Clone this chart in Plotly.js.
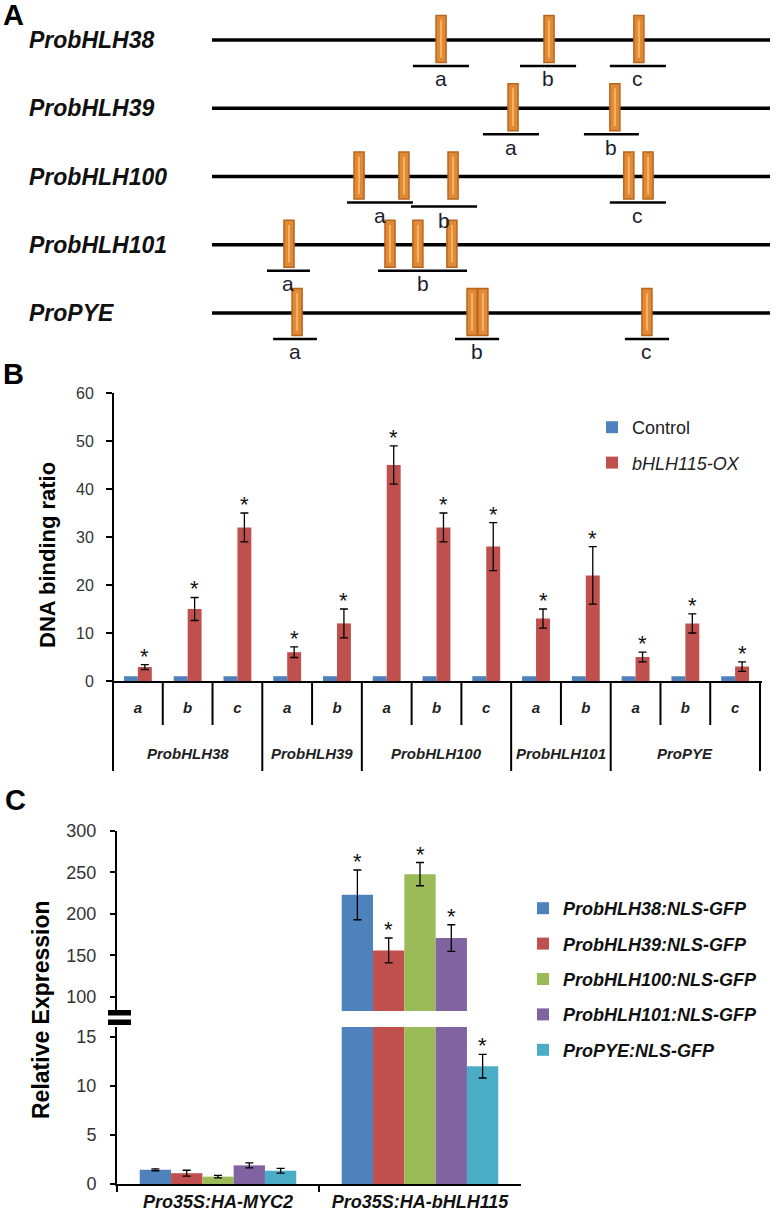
<!DOCTYPE html>
<html><head><meta charset="utf-8">
<script src="https://cdn.plot.ly/plotly-3.0.1.min.js"></script>
<style>body{margin:0;background:#fff}#chart{width:776px;height:1214px}</style>
</head><body><div id="chart"></div>
<script>
// ================= DATA =================
// Panel A: promoter maps (positions in bp upstream of start codon)
const promoters = ['ProbHLH38','ProbHLH39','ProbHLH100','ProbHLH101','ProPYE'];
const promoterLengthBp = 2000;
const sitesBp = [
  [-1179, -792, -470],
  [-921, -556],
  [-1473, -1312, -1136, -506, -437],
  [-1724, -1362, -1262, -1140],
  [-1695, -1068, -1029, -441]
];
const fragLabels = [['a','b','c'], ['a','b'], ['a','b','c'], ['a','b'], ['a','b','c']];
const fragStartBp = [[-1280,-896,-574], [-1029,-667], [-1516,-1287,-574], [-1803,-1405], [-1781,-1129,-520]];
const fragEndBp   = [[-1079,-695,-373], [-828,-470],  [-1280,-1050,-373], [-1649,-1086], [-1624,-971,-362]];

// Panel B: ChIP-qPCR DNA binding ratio
const bFragments = ['a','b','c','a','b','a','b','c','a','b','a','b','c'];
const bGroups = ['ProbHLH38','ProbHLH39','ProbHLH100','ProbHLH101','ProPYE'];
const bGroupSizes = [3, 2, 3, 2, 3];
const bControl = [1,1,1,1,1,1,1,1,1,1,1,1,1];
const bOX      = [2.9, 15, 32, 6, 12, 45, 32, 28, 13, 22, 5, 12, 3];
const bOXErr   = [0.5, 2.4, 3, 1.1, 3, 4, 3, 5, 2, 6, 1, 2, 1];
const bSeriesNames = ['Control', '<i>bHLH115-OX</i>'];

// Panel C: relative expression of reporters
const cCategories = ['Pro35S:HA-MYC2', 'Pro35S:HA-bHLH115'];
const cSeriesNames = ['ProbHLH38:NLS-GFP','ProbHLH39:NLS-GFP','ProbHLH100:NLS-GFP','ProbHLH101:NLS-GFP','ProPYE:NLS-GFP'];
const c38  = [1.45, 223]; const c38Err  = [0.1, 30];
const c39  = [1.1, 156];  const c39Err  = [0.3, 15];
const c100 = [0.75, 248]; const c100Err = [0.12, 14];
const c101 = [1.9, 171];  const c101Err = [0.25, 16];
const cPYE = [1.35, 12];  const cPYEErr = [0.25, 1.2];
const cSignificant = [false, true];

// ================= LAYOUT HELPERS =================
const W = 776, H = 1214;
const px = v => v / W;
const py = v => 1 - v / H;
const FONT = 'Liberation Sans, Arial, sans-serif';

const shapes = [];
const annotations = [];
const traces = [];

// ---------- Panel A ----------
const siteColor = '#E08A36', siteEdge = '#B9651F', siteInner = '#F6B46A';
const siteHalfBp = 18;
promoters.forEach((p, i) => {
  shapes.push({type:'line', xref:'x', yref:'y', x0:-promoterLengthBp, x1:0, y0:i, y1:i,
               line:{color:'#000', width:3.5}, layer:'above'});
  sitesBp[i].forEach(s => {
    shapes.push({type:'rect', xref:'x', yref:'y', x0:s - siteHalfBp, x1:s + siteHalfBp,
                 y0:i - 0.36, y1:i + 0.33, fillcolor:siteColor, line:{color:siteEdge, width:1.5}, layer:'above'});
    shapes.push({type:'line', xref:'x', yref:'y', x0:s, x1:s, y0:i - 0.29, y1:i + 0.26,
                 line:{color:siteInner, width:2}, layer:'above'});
  });
  fragLabels[i].forEach((lab, k) => {
    const overlaps = k > 0 && fragStartBp[i][k] < fragEndBp[i][k-1];
    const yl = i + 0.381 + (overlaps ? 0.06 : 0);
    shapes.push({type:'line', xref:'x', yref:'y', x0:fragStartBp[i][k], x1:fragEndBp[i][k], y0:yl, y1:yl,
                 line:{color:'#000', width:2.5}, layer:'above'});
    annotations.push({xref:'x', yref:'y', x:(fragStartBp[i][k] + fragEndBp[i][k]) / 2,
                      y:i + 0.571 + (overlaps ? 0.07 : 0), xanchor:'center', yanchor:'middle',
                      text:lab, showarrow:false,
                      font:{family:FONT, size:21, color:'#1c1c30'}});
  });
  annotations.push({xref:'paper', yref:'y', x:px(27), y:i, xanchor:'left', yanchor:'middle',
                    text:'<b><i>' + p + '</i></b>', showarrow:false,
                    font:{family:FONT, size:23, color:'#111'}});
});

// ---------- Panel B ----------
const bX = bFragments.map((_, i) => i);
const bBarW = 0.28;
traces.push({type:'bar', x:bX, y:bControl, name:bSeriesNames[0], xaxis:'x2', yaxis:'y2',
             width:bBarW, offset:-bBarW, marker:{color:'#4F81BD'}, legend:'legend', legendgroup:'b1'});
traces.push({type:'bar', x:bX, y:bOX, name:bSeriesNames[1], xaxis:'x2', yaxis:'y2',
             width:bBarW, offset:0, marker:{color:'#C0504D'}, legend:'legend', legendgroup:'b2',
             error_y:{type:'data', array:bOXErr, visible:true, color:'#000', thickness:1.3, width:4}});
bX.forEach(i => {
  annotations.push({xref:'x2', yref:'y2', x:i + bBarW / 2, y:bOX[i] + bOXErr[i],
                    xanchor:'center', yanchor:'bottom', yshift:-6,
                    text:'*', showarrow:false, font:{family:FONT, size:22, color:'#111'}});
});
// group labels and dividers under the axis
let start = 0;
const groupBoundaries = new Set([-0.5]);
bGroups.forEach((g, gi) => {
  const n = bGroupSizes[gi];
  annotations.push({xref:'x2', yref:'paper', x:start + (n - 1) / 2, y:py(753), xanchor:'center', yanchor:'middle',
                    text:'<b><i>' + g + '</i></b>', showarrow:false, font:{family:FONT, size:15, color:'#222'}});
  start += n;
  groupBoundaries.add(start - 0.5);
});
for (let b = -0.5; b <= bX.length - 0.5; b += 1) {
  const isGroup = groupBoundaries.has(b);
  shapes.push({type:'line', xref:'x2', yref:'paper', x0:b, x1:b,
               y0:py(681), y1:isGroup ? py(771) : py(725),
               line:{color:'#000', width:2}});
}

// ---------- Panel C ----------
const cSeries = [c38, c39, c100, c101, cPYE];
const cErrs = [c38Err, c39Err, c100Err, c101Err, cPYEErr];
const cColors = ['#4F81BD','#C0504D','#9BBB59','#8064A2','#4BACC6'];
const cBarW = 0.155;
cSeries.forEach((vals, k) => {
  const off = -2.5 * cBarW + k * cBarW;
  ['y3', 'y4'].forEach(ya => {
    traces.push({type:'bar', x:cCategories, y:vals, name:cSeriesNames[k], xaxis:'x3', yaxis:ya,
                 width:cBarW, offset:off, marker:{color:cColors[k]},
                 legend:'legend2', legendgroup:'c' + k, showlegend:ya === 'y3',
                 error_y:{type:'data', array:cErrs[k], visible:true, color:'#000', thickness:1.3, width:4}});
  });
  cCategories.forEach((c, j) => {
    if (!cSignificant[j]) return;
    const top = vals[j] + cErrs[k][j];
    annotations.push({xref:'x3', yref: top > 50 ? 'y4' : 'y3', x:j + off + cBarW / 2, y:top,
                      xanchor:'center', yanchor:'bottom', yshift:-6, text:'*', showarrow:false,
                      font:{family:FONT, size:22, color:'#111'}});
  });
});
// axis break marks
[[1010, 1015.5], [1019.5, 1025]].forEach(([a, b]) => {
  shapes.push({type:'rect', xref:'paper', yref:'paper', x0:px(108), x1:px(131), y0:py(b), y1:py(a),
               fillcolor:'#000', line:{width:0}});
});

// panel letters & axis titles
[['A', 14, 15], ['B', 14, 374], ['C', 15, 800]].forEach(([t, x, y]) => {
  annotations.push({xref:'paper', yref:'paper', x:px(x), y:py(y), xanchor:'center', yanchor:'middle',
                    text:'<b>' + t + '</b>', showarrow:false, font:{family:FONT, size:29, color:'#000'}});
});
annotations.push({xref:'paper', yref:'paper', x:px(47), y:py(555), xanchor:'center', yanchor:'middle', textangle:-90,
                  text:'<b>DNA binding ratio</b>', showarrow:false, font:{family:FONT, size:22, color:'#000'}});
annotations.push({xref:'paper', yref:'paper', x:px(41), y:py(1010), xanchor:'center', yanchor:'middle', textangle:-90,
                  text:'<b>Relative Expression</b>', showarrow:false, font:{family:FONT, size:23, color:'#000'}});

const layout = {
  width:W, height:H, margin:{l:0, r:0, t:0, b:0},
  paper_bgcolor:'#fff', plot_bgcolor:'rgba(0,0,0,0)',
  font:{family:FONT, color:'#111'},
  barmode:'overlay', hovermode:false,
  // Panel A axes
  xaxis:{domain:[px(212), px(770)], range:[-promoterLengthBp, 0], visible:false, fixedrange:true},
  yaxis:{domain:[py(370), 1], range:[(370 - 40) / 68.25, -40 / 68.25], visible:false, fixedrange:true},
  // Panel B axes
  xaxis2:{domain:[px(111.5), px(761.5)], range:[-0.53, bX.length - 0.47], anchor:'y2',
          showline:true, linecolor:'#000', linewidth:2, showgrid:false, zeroline:false,
          tickvals:bX, ticktext:bFragments, ticks:'', ticklabelstandoff:12,
          tickfont:{family:FONT, size:15, color:'#222', weight:'bold', style:'italic'}},
  yaxis2:{domain:[py(681), py(393)], range:[0, 60], anchor:'free', position:px(113),
          showline:true, linecolor:'#000', linewidth:2, showgrid:false, zeroline:false,
          dtick:10, ticks:'outside', ticklen:6, tickwidth:2, tickcolor:'#000', ticklabelstandoff:9,
          tickfont:{family:FONT, size:16, color:'#333'}},
  // Panel C axes
  xaxis3:{domain:[px(117), px(521)], anchor:'y3', type:'category',
          showline:true, linecolor:'#000', linewidth:2, showgrid:false, zeroline:false,
          tickson:'boundaries', ticks:'outside', ticklen:6, tickwidth:2, tickcolor:'#000',
          tickfont:{family:FONT, size:18, color:'#111', weight:'bold', style:'italic'}},
  yaxis3:{domain:[py(1184), py(1027)], range:[0, 16], anchor:'x3',
          showline:true, linecolor:'#000', linewidth:2, showgrid:false, zeroline:false,
          tickvals:[0,5,10,15], ticks:'outside', ticklen:5, tickwidth:2, tickcolor:'#000', ticklabelstandoff:10,
          tickfont:{family:FONT, size:18, color:'#333'}},
  yaxis4:{domain:[py(1011), py(831)], range:[83, 300], anchor:'x3',
          showline:true, linecolor:'#000', linewidth:2, showgrid:false, zeroline:false,
          tick0:0, dtick:50, ticks:'outside', ticklen:5, tickwidth:2, tickcolor:'#000', ticklabelstandoff:10,
          tickfont:{family:FONT, size:18, color:'#333'}},
  legend:{x:px(592), y:py(409), xanchor:'left', yanchor:'top', bgcolor:'rgba(0,0,0,0)',
          tracegroupgap:9, font:{family:FONT, size:18, color:'#222'}},
  legend2:{x:px(523), y:py(890), xanchor:'left', yanchor:'top', bgcolor:'rgba(0,0,0,0)',
           tracegroupgap:9, font:{family:FONT, size:18, color:'#111', weight:'bold', style:'italic'}},
  shapes:shapes,
  annotations:annotations
};

Plotly.newPlot('chart', traces, layout, {staticPlot:true, displayModeBar:false});
</script>
</body></html>
